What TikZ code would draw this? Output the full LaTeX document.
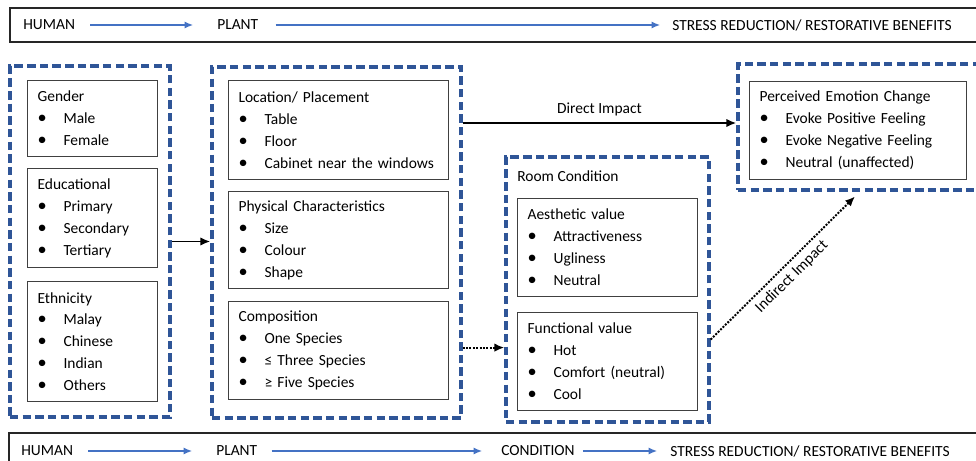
\documentclass[tikz,border=0pt]{standalone}
\usepackage{fontspec}
\setmainfont{Carlito}
\usetikzlibrary{arrows.meta,fit}
\definecolor{dashblue}{HTML}{2F5597}
\definecolor{lineblue}{HTML}{4472C4}
\definecolor{boxgray}{HTML}{404040}
\newcommand{\itm}[1]{\makebox[0.65cm][l]{\fontsize{13pt}{15.6pt}\selectfont\textbullet}#1}
\begin{document}
\begin{tikzpicture}[x=0.025cm,y=-0.025cm,font=\fontsize{11pt}{15.6pt}\selectfont,
    >={Latex[length=7pt,width=6pt]},
    listbox/.style={draw=boxgray,line width=0.8pt,anchor=north west,align=left,inner xsep=0.25cm,inner ysep=0pt},
    dashbox/.style={draw=dashblue,line width=2.4pt,dash pattern=on 6pt off 3pt,inner sep=0pt},
    banner/.style={draw=black!85,line width=1.5pt},
    bannertext/.style={inner sep=0pt,anchor=west},
    flow/.style={->,lineblue,line width=0.8pt,>={Latex[length=6pt,width=5pt]}},
    impact/.style={->,line width=1.4pt},
    weak/.style={->,line width=1.4pt,densely dotted}]
    \clip (0,0) rectangle (976,461);

    % top banner
    \draw[banner] (10,8) rectangle (990,42);
    \node[bannertext] (h1) at (23,25) {HUMAN};
    \node[bannertext] (p1) at (217,25) {PLANT};
    \node[bannertext] (s1) at (672,25) {STRESS REDUCTION/ RESTORATIVE BENEFITS};
    \draw[flow] ([xshift=0.375cm]h1.east) -- ([xshift=-0.6cm]p1.west);
    \draw[flow] ([xshift=0.425cm]p1.east) -- ([xshift=-0.3cm]s1.west);

    % human
    \node[listbox,text width=2.75cm,minimum height=1.9cm] (gender) at (27,80) {Gender\\\itm{Male}\\\itm{Female}};
    \node[listbox,text width=2.75cm,minimum height=2.475cm] (edu) at (27,168) {Educational\\\itm{Primary}\\\itm{Secondary}\\\itm{Tertiary}};
    \node[listbox,text width=2.75cm,minimum height=3cm] (eth) at (27,281) {Ethnicity\\\itm{Malay}\\\itm{Chinese}\\\itm{Indian}\\\itm{Others}};
    \node[dashbox,fit={(10,66) (170,417)}] (human) {};

    % plant
    \node[listbox,text width=5cm,minimum height=2.475cm] (loc) at (228,80) {Location/ Placement\\\itm{Table}\\\itm{Floor}\\\itm{Cabinet near the windows}};
    \node[listbox,text width=5cm,minimum height=2.425cm] (phys) at (228,191) {Physical Characteristics\\\itm{Size}\\\itm{Colour}\\\itm{Shape}};
    \node[listbox,text width=5cm,minimum height=2.45cm] (comp) at (228,301) {Composition\\\itm{One Species}\\\itm{≤ Three Species}\\\itm{≥ Five Species}};
    \node[dashbox,fit={(212,67) (461,418)}] (plant) {};

    % room condition
    \node[bannertext] (roomtitle) at (517,176) {Room Condition};
    \node[listbox,text width=4cm,minimum height=2.45cm] (aes) at (517,198) {Aesthetic value\\\itm{Attractiveness}\\\itm{Ugliness}\\\itm{Neutral}};
    \node[listbox,text width=4cm,minimum height=2.45cm] (func) at (517,312) {Functional value\\\itm{Hot}\\\itm{Comfort (neutral)}\\\itm{Cool}};
    \node[dashbox,fit={(506,157) (709,422)}] (room) {};

    % emotion
    \node[listbox,text width=4.925cm,minimum height=2.45cm] (emo) at (749,81) {Perceived Emotion Change\\\itm{Evoke Positive Feeling}\\\itm{Evoke Negative Feeling}\\\itm{Neutral (unaffected)}};
    \node[dashbox,fit={(738,64) (980,190)}] (emotion) {};

    % connectors
    \draw[impact] (human.east) -- (human.east -| plant.west);
    \coordinate (di) at ([yshift=0.1cm]emotion.west);
    \draw[impact] (plant.east |- di) -- node[above,inner sep=0.15cm]{Direct Impact} (di);
    \coordinate (dc) at ([yshift=0.075cm]comp.east);
    \draw[weak] (plant.east |- dc) -- (room.west |- dc);
    \coordinate (ii) at ([yshift=-1.25cm]room.east);
    \coordinate (ie) at ([xshift=-0.1cm,yshift=-0.12cm]emotion.south);
    \draw[weak] (ii) -- node[below,sloped,inner sep=0.125cm]{Indirect Impact} (ie);

    % bottom banner
    \draw[banner] (9,433) rectangle (990,480);
    \node[bannertext] (h2) at (21,451) {HUMAN};
    \node[bannertext] (p2) at (216,451) {PLANT};
    \node[bannertext] (c2) at (501,451) {CONDITION};
    \node[bannertext] (s2) at (670,451) {STRESS REDUCTION/ RESTORATIVE BENEFITS};
    \draw[flow] ([xshift=0.375cm]h2.east) -- ([xshift=-0.6cm]p2.west);
    \draw[flow] ([xshift=0.35cm]p2.east) -- ([xshift=-0.475cm]c2.west);
    \draw[flow] ([xshift=0.2cm]c2.east) -- ([xshift=-0.325cm]s2.west);
\end{tikzpicture}
\end{document}
